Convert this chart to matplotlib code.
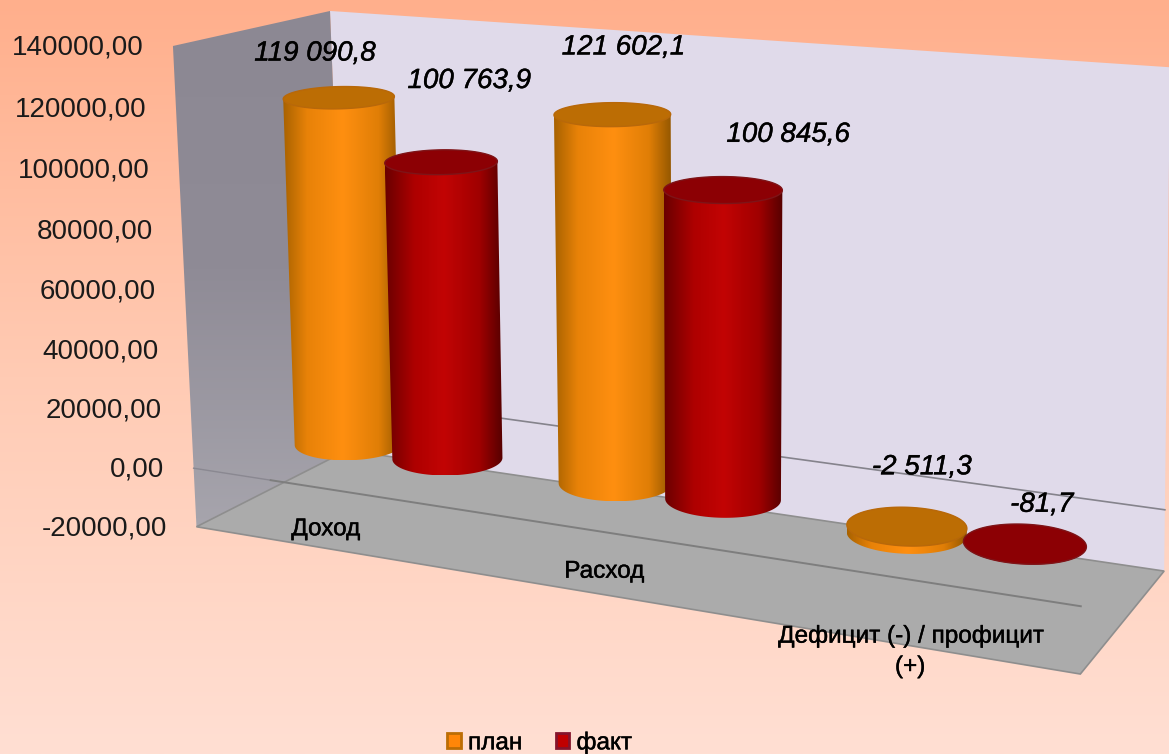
import numpy as np
import matplotlib
matplotlib.use('Agg')
import matplotlib.pyplot as plt
import matplotlib.patheffects as pe
from matplotlib.colors import LinearSegmentedColormap
from matplotlib.patches import Patch, Polygon

plt.rcParams['font.family'] = ['Liberation Sans', 'DejaVu Sans']

categories = ['Доход', 'Расход', 'Дефицит (-) / профицит\n(+)']
series_names = ['план', 'факт']
plan = [119090.8, 121602.1, -2511.3]
fact = [100763.9, 100845.6, -81.7]
plan_labels = ['119 090,8', '121 602,1', '-2 511,3']
fact_labels = ['100 763,9', '100 845,6', '-81,7']
axis_ticks = [140000, 120000, 100000, 80000, 60000, 40000, 20000, 0, -20000]
axis_labels = ['140000,00', '120000,00', '100000,00', '80000,00', '60000,00',
               '40000,00', '20000,00', '0,00', '-20000,00']

VMIN, VMAX = -20000, 140000
W, H = 1169, 754

# scene (category pos, value, depth) -> picture pixels
box_pts = [
    (0, -20000, 0, 197, 527), (0, 140000, 0, 172, 46),
    (0, -20000, 1, 335, 447), (0, 140000, 1, 331, 11),
    (3, -20000, 1, 1165, 572), (3, 140000, 1, 1169, 67),
    (3, -20000, 0, 1080, 673),
    (0, 0, 0, 197, 468), (3, 0, 0, 1083, 606),
    (0, 0, 1, 334, 396), (3, 0, 1, 1165, 511),
]
box_weights = [4, 5, 1, 5, 2, 2, 2, 2, 1, 1, 1]
bar_pts = [
    (0.31, 0, .5, 351, 444), (0.69, 0, .5, 443, 458),
    (1.31, 0, .5, 620, 482), (1.69, 0, .5, 720, 499),
    (2.31, 0, .5, 912, 526), (2.69, 0, .5, 1021, 545),
    (0.31, 119090, .5, 341, 97), (0.69, 100764, .5, 436, 164),
    (1.31, 121602, .5, 616, 114), (1.69, 100846, .5, 721, 189),
]


def fit_camera(points, weights):
    A, b = [], []
    for (u, v, d, px, py), w in zip(points, weights):
        v = v / 1e5
        A.append(np.array([u, v, d, 1, 0, 0, 0, 0, -px * u, -px * v, -px * d]) * w)
        b.append(px * w)
        A.append(np.array([0, 0, 0, 0, u, v, d, 1, -py * u, -py * v, -py * d]) * w)
        b.append(py * w)
    return np.linalg.lstsq(np.array(A, float), np.array(b, float), rcond=None)[0]


CAM_BOX = fit_camera(box_pts, box_weights)
CAM_BAR = fit_camera(box_pts + bar_pts, [0.08] * len(box_pts) + [1] * len(bar_pts))


def project(u, v, d, P=CAM_BOX):
    u, v, d = np.asarray(u, float), np.asarray(v, float) / 1e5, np.asarray(d, float)
    w = P[8] * u + P[9] * v + P[10] * d + 1
    return (P[0] * u + P[1] * v + P[2] * d + P[3]) / w, (P[4] * u + P[5] * v + P[6] * d + P[7]) / w


def face(points):
    return np.array([project(*p) for p in points])


def convex_hull(pts):
    pts = sorted(set(map(tuple, pts)))

    def half(seq):
        out = []
        for p in seq:
            while len(out) > 1 and ((out[-1][0] - out[-2][0]) * (p[1] - out[-2][1])
                                    - (out[-1][1] - out[-2][1]) * (p[0] - out[-2][0])) <= 0:
                out.pop()
            out.append(p)
        return out[:-1]
    return np.array(half(pts) + half(pts[::-1]))


fig = plt.figure(figsize=(W / 100, H / 100), dpi=100)
ax = fig.add_axes([0, 0, 1, 1])
ax.axis('off')

# background gradient
bg = LinearSegmentedColormap.from_list('bg', ['#FFAF8C', '#FFCBB4', '#FFDFD3'])
ax.imshow(np.linspace(0, 1, 256)[:, None], cmap=bg, extent=(0, W, H, 0), aspect='auto', zorder=0)

# walls and floor
left = face([(0, VMAX, 0), (0, VMAX, 1), (0, VMIN, 1), (0, VMIN, 0)])
back = face([(0, VMAX, 1), (3, VMAX, 1), (3, VMIN, 1), (0, VMIN, 1)])
floor = face([(0, VMIN, 0), (0, VMIN, 1), (3, VMIN, 1), (3, VMIN, 0)])
ax.add_patch(Polygon(back, fc='#E0DAEA', ec='none', zorder=1))
wall_cm = LinearSegmentedColormap.from_list('wall', ['#8C8893', '#8F8B96', '#A7A5AD'])
im = ax.imshow(np.linspace(0, 1, 256)[:, None], cmap=wall_cm, extent=(0, W, 530, 10), aspect='auto', zorder=1)
im.set_clip_path(Polygon(left, transform=ax.transData))
ax.add_patch(Polygon(floor, fc='#ABABAB', ec='#8E8E8E', lw=1.2, zorder=2))

# zero line on the back wall, category axis on the floor (faint over the wall)
zl = face([(0, 0, 1), (3, 0, 1)])
ax.plot(zl[:, 0], zl[:, 1], color='#85838C', lw=1.2, zorder=1.5)
za = face([(0.3, 0, 0), (3, 0, 0)])
ax.plot(za[:, 0], za[:, 1], color='#7E7E7E', lw=1.4, zorder=3)
za = face([(0, 0, 0), (0.3, 0, 0)])
ax.plot(za[:, 0], za[:, 1], color='#8A8891', lw=1, zorder=1.5)

stroke = [pe.withStroke(linewidth=0.3, foreground='black')]

# value axis labels follow the front edge of the left wall
for tick, lab in zip(axis_ticks, axis_labels):
    x, y = project(0, tick, 0)
    ax.text(x - 29, y + 1.5, lab, ha='right', va='center', fontsize=20, color='#1a1a1a', zorder=12)

orange_cm = LinearSegmentedColormap.from_list(
    'o', [(0, '#A86200'), (.2, '#E88208'), (.5, '#FF8F10'), (.8, '#E07E06'), (1, '#8F5500')])
red_cm = LinearSegmentedColormap.from_list(
    'r', [(0, '#6A0000'), (.25, '#AE0000'), (.5, '#C20404'), (.8, '#A00000'), (1, '#560000')])

RU, RD = 0.185, 0.2
theta = np.linspace(0, 2 * np.pi, 181)


def cylinder(u, value, cmap, top_color, rim_color, z):
    # cylinder stands on value 0; the darker cap is the face furthest up
    cu, cd = u + RU * np.cos(theta), .5 + RD * np.sin(theta)
    x0, y0 = project(cu, np.zeros_like(cu), cd, CAM_BAR)
    x1, y1 = project(cu, np.full_like(cu, value), cd, CAM_BAR)
    lo, hi = min(x0.min(), x1.min()), max(x0.max(), x1.max())
    top, bot = min(y0.min(), y1.min()), max(y0.max(), y1.max())
    body = ax.imshow(np.linspace(0, 1, 256)[None, :], cmap=cmap, extent=(lo, hi, bot, top),
                     aspect='auto', zorder=z)
    body.set_clip_path(Polygon(convex_hull(np.r_[np.c_[x0, y0], np.c_[x1, y1]]), transform=ax.transData))
    cap = np.c_[x1, y1] if value >= 0 else np.c_[x0, y0]
    ax.add_patch(Polygon(cap, fc=top_color, ec=rim_color, lw=1, zorder=z + 0.1))


plan_offsets = [(-24, 44), (11, 67), (15, 59)]
fact_offsets = [(28, 81), (65, 55), (17, 39)]

for i in range(3):
    uc = i + 0.5
    z = 4 + i
    cylinder(uc - 0.19, plan[i], orange_cm, '#BC6D04', '#B8680A', z)
    cylinder(uc + 0.19, fact[i], red_cm, '#8C0004', '#7E1418', z + 0.3)
    for du, val, lab, off in [(-0.19, plan[i], plan_labels[i], plan_offsets[i]),
                              (0.19, fact[i], fact_labels[i], fact_offsets[i])]:
        px, py = project(uc + du, max(val, 0), .5, CAM_BAR)
        ax.annotate(lab, (px, py), xytext=off, textcoords='offset pixels', ha='center', va='center',
                    fontsize=20, style='italic', color='black', zorder=12,
                    annotation_clip=False, path_effects=stroke)

# category labels over the front edge
cat_offsets = [(0, 30), (0, 34), (-3, 21)]
for i, (lab, off) in enumerate(zip(categories, cat_offsets)):
    px, py = project(i + 0.5, VMIN, 0)
    ax.annotate(lab, (px, py), xytext=off, textcoords='offset pixels', ha='center', va='top',
                fontsize=17.5, color='black', zorder=12, linespacing=1.5, annotation_clip=False,
                path_effects=stroke)

handles = [Patch(fc='#FF8608', ec='#BC6D04', lw=2), Patch(fc='#C00000', ec='#85142B', lw=2)]
leg = ax.legend(handles, series_names, ncol=2, loc='lower center', bbox_to_anchor=(0.4615, -0.023),
                frameon=False, fontsize=17.5, handlelength=0.55, handleheight=0.6, handletextpad=0.3,
                columnspacing=1.4, borderpad=0.2)
for t in leg.get_texts():
    t.set_path_effects(stroke)

ax.set_xlim(0, W)
ax.set_ylim(H, 0)
fig.savefig('out.png', dpi=100)
